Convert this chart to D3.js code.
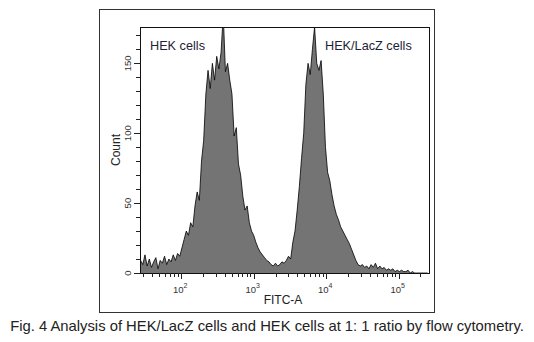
<!DOCTYPE html>
<html><head><meta charset="utf-8">
<script src="https://cdn.jsdelivr.net/npm/d3@7"></script>
<style>body{margin:0;background:#fff;}svg{display:block;font-family:"Liberation Sans",Arial,sans-serif;}</style>
</head><body>
<svg id="c" width="534" height="342"></svg>
<script>
// histogram: log10(FITC-A) of first bin, bin step in log10 units
const binStartLog = 1.44;
const binStepLog = 0.03;
const counts = [
  9,6,13,5,10,4,8,11,3,9,7,12,6,10,8,13,9,14,12,18,24,30,27,36,33,48,58,52,80,95,
  128,145,132,150,138,155,146,158,185,144,150,138,128,98,104,78,70,55,45,48,36,30,27,22,18,15,13,11,9,8,6,
  5,7,5,6,8,7,9,12,10,22,30,45,62,82,100,135,150,142,160,176,150,145,152,128,90,72,66,56,48,42,
  38,33,30,27,24,21,17,13,9,6,5,6,4,5,3,6,4,7,3,5,3,4,2,3,2,3,1,2,1,2,
  1,1,2,0,1,0,0,0,0,0,0,0
];
const xDomain = [27, 262144];
const yDomain = [0, 176];
const yMajorTicks = [0, 50, 100, 150];
const yMinorTicks = d3.range(0, 180, 10);
const xMajorExp = [2, 3, 4, 5];
const xMinorTicks = [30,40,50,60,70,80,90,200,300,400,500,600,700,800,900,2000,3000,4000,5000,6000,7000,8000,9000,20000,30000,40000,50000,60000,70000,80000,90000,200000];
const label1 = "HEK cells";
const label2 = "HEK/LacZ cells";
const xTitle = "FITC-A";
const yTitle = "Count";
const caption = "Fig. 4 Analysis of HEK/LacZ cells and HEK cells at 1: 1 ratio by flow cytometry.";

const svg = d3.select("#c");
const L = 140, R = 429, T = 27, B = 273;
const x = d3.scaleLog().domain(xDomain).range([L, R]);
const y = d3.scaleLinear().domain(yDomain).range([B, T]);

// outer frame
svg.append("rect").attr("x", 99.5).attr("y", 9.5).attr("width", 335).attr("height", 303)
  .attr("fill", "none").attr("stroke", "#333").attr("stroke-width", 1);

// clip
svg.append("clipPath").attr("id", "pc").append("rect")
  .attr("x", L).attr("y", T).attr("width", R - L).attr("height", B - T);

const data = counts.map((c, i) => ({v: Math.pow(10, binStartLog + i * binStepLog), c}));
const area = d3.area().x(d => x(d.v)).y0(y(0)).y1(d => y(d.c));
const line = d3.line().x(d => x(d.v)).y(d => y(d.c));
const g = svg.append("g").attr("clip-path", "url(#pc)");
g.append("path").datum(data).attr("d", area).attr("fill", "#747474");
g.append("path").datum(data).attr("d", line).attr("fill", "none").attr("stroke", "#000").attr("stroke-width", 0.8);

// inner frame
svg.append("rect").attr("x", L + 0.5).attr("y", T + 0.5).attr("width", R - L).attr("height", B - T)
  .attr("fill", "none").attr("stroke", "#111").attr("stroke-width", 1);

// y ticks
const ya = svg.append("g");
ya.selectAll("line.mi").data(yMinorTicks).join("line")
  .attr("x1", L - 4).attr("x2", L).attr("y1", d => Math.round(y(d)) + 0.5).attr("y2", d => Math.round(y(d)) + 0.5)
  .attr("stroke", "#222");
ya.selectAll("line.ma").data(yMajorTicks).join("line")
  .attr("x1", L - 6).attr("x2", L).attr("y1", d => Math.round(y(d)) + 0.5).attr("y2", d => Math.round(y(d)) + 0.5)
  .attr("stroke", "#222");
ya.selectAll("text").data(yMajorTicks).join("text")
  .attr("transform", d => `translate(${L - 9},${y(d)}) rotate(-90)`)
  .attr("text-anchor", "middle").attr("font-size", 9.5).attr("fill", "#333").text(d => d);

// x ticks
const xa = svg.append("g");
xa.selectAll("line.mi").data(xMinorTicks).join("line")
  .attr("y1", B).attr("y2", B + 4).attr("x1", d => Math.round(x(d)) + 0.5).attr("x2", d => Math.round(x(d)) + 0.5)
  .attr("stroke", "#222");
xa.selectAll("line.ma").data(xMajorExp).join("line")
  .attr("y1", B).attr("y2", B + 6).attr("x1", d => Math.round(x(Math.pow(10, d))) + 0.5).attr("x2", d => Math.round(x(Math.pow(10, d))) + 0.5)
  .attr("stroke", "#222");
const xt = xa.selectAll("text").data(xMajorExp).join("text")
  .attr("x", d => x(Math.pow(10, d)) - 1).attr("y", B + 20)
  .attr("text-anchor", "middle").attr("font-size", 9.5).attr("fill", "#333");
xt.append("tspan").text("10");
xt.append("tspan").attr("dy", -5).attr("font-size", 7).text(d => d);

// titles
svg.append("text").attr("x", 283).attr("y", 304).attr("text-anchor", "middle")
  .attr("font-size", 12).attr("fill", "#222").text(xTitle);
svg.append("text").attr("transform", "translate(120,150) rotate(-90)").attr("text-anchor", "middle")
  .attr("font-size", 12).attr("fill", "#222").text(yTitle);

svg.append("text").attr("x", 150).attr("y", 50).attr("font-size", 12.7).attr("fill", "#1e2235").text(label1);
svg.append("text").attr("x", 325).attr("y", 50).attr("font-size", 12.7).attr("fill", "#1e2235").text(label2);

svg.append("text").attr("x", 267).attr("y", 331).attr("text-anchor", "middle")
  .attr("font-size", 14.8).attr("fill", "#222").text(caption);
</script>
</body></html>
